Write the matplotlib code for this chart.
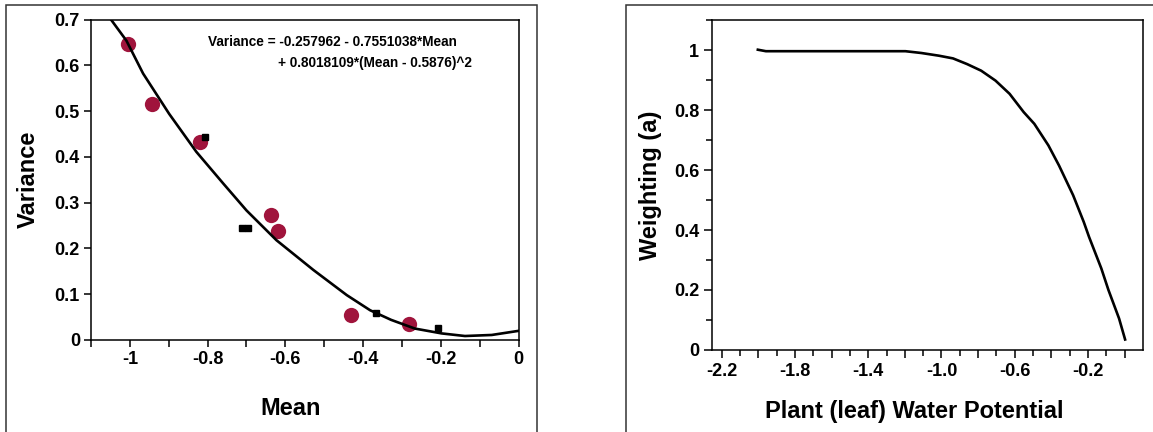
import matplotlib
matplotlib.use("Agg")
import matplotlib.pyplot as plt
from matplotlib.patches import Rectangle
from matplotlib.ticker import MultipleLocator, FixedLocator, FixedFormatter

plt.rcParams['font.family'] = ['Liberation Sans', 'DejaVu Sans']
plt.rcParams['font.weight'] = 'bold'

# left panel: observed mean/variance pairs
circ_mean = [-1.004, -0.942, -0.820, -0.638, -0.620, -0.431, -0.282]
circ_var = [0.647, 0.516, 0.433, 0.274, 0.238, 0.055, 0.034]
sq_mean = [-0.808, -0.711, -0.695, -0.367, -0.207]
sq_var = [0.443, 0.244, 0.244, 0.060, 0.027]

# fitted curve
fit_mean = [-1.047, -1.009, -0.966, -0.899, -0.829, -0.760, -0.700, -0.623,
            -0.528, -0.442, -0.382, -0.328, -0.267, -0.198, -0.138, -0.069, 0.0]
fit_var = [0.698, 0.654, 0.582, 0.494, 0.411, 0.342, 0.283, 0.218,
           0.153, 0.098, 0.065, 0.044, 0.025, 0.0144, 0.0087, 0.011, 0.020]

eq_line1 = "Variance = -0.257962 - 0.7551038*Mean"
eq_line2 = "+ 0.8018109*(Mean - 0.5876)^2"

# right panel: weighting vs water potential
wp = [-2.003, -1.959, -1.708, -1.197, -1.110, -1.014, -0.937, -0.860, -0.783,
      -0.705, -0.628, -0.551, -0.493, -0.416, -0.358, -0.281, -0.223, -0.194,
      -0.127, -0.088, -0.030, 0.003]
weight = [1.001, 0.996, 0.996, 0.996, 0.990, 0.981, 0.972, 0.953, 0.931,
          0.898, 0.854, 0.793, 0.754, 0.682, 0.615, 0.516, 0.427, 0.377,
          0.272, 0.200, 0.105, 0.035]
wp_ticks = [-2.2, -2.0, -1.8, -1.6, -1.4, -1.2, -1.0, -0.8, -0.6, -0.4, -0.2, 0.0]
wp_labels = ['-2.2', '', '-1.8', '', '-1.4', '', '-1.0', '', '-0.6', '', '-0.2', '']

W, H = 1153, 432
fig = plt.figure(figsize=(W / 100, H / 100), dpi=100)

# outer frames around each panel
fig.add_artist(Rectangle((6 / W, -0.1), (537 - 6) / W, 1.1 - 5.5 / H,
                         transform=fig.transFigure, fill=False, lw=1.1, ec='#333333'))
fig.add_artist(Rectangle((626 / W, -0.1), 0.5, 1.1 - 5.5 / H,
                         transform=fig.transFigure, fill=False, lw=1.1, ec='#333333'))

crimson = '#a0143c'
tick_font = 13
label_font = 17

ax1 = fig.add_axes([91 / W, 1 - 340 / H, (518.6 - 91) / W, (340 - 19.5) / H])
ax1.plot(circ_mean, circ_var, 'o', color=crimson, ms=11, mec='none', zorder=2)
ax1.plot(fit_mean, fit_var, '-', color='black', lw=1.9, zorder=3)
ax1.plot(sq_mean, sq_var, 's', color='black', ms=5, zorder=4)
ax1.set_xlim(-1.1, 0)
ax1.set_ylim(0, 0.7)
ax1.xaxis.set_major_locator(FixedLocator([-1, -0.8, -0.6, -0.4, -0.2, 0]))
ax1.xaxis.set_major_formatter(FixedFormatter(['-1', '-0.8', '-0.6', '-0.4', '-0.2', '0']))
ax1.xaxis.set_minor_locator(MultipleLocator(0.1))
ax1.yaxis.set_major_locator(FixedLocator([0, 0.1, 0.2, 0.3, 0.4, 0.5, 0.6, 0.7]))
ax1.yaxis.set_major_formatter(FixedFormatter(['0', '0.1', '0.2', '0.3', '0.4', '0.5', '0.6', '0.7']))
ax1.tick_params(which='major', length=5, width=1.1, labelsize=tick_font, pad=3)
ax1.tick_params(which='minor', length=5, width=1.1)
ax1.set_xlabel('Mean', fontsize=label_font, fontweight='bold')
ax1.set_ylabel('Variance', fontsize=label_font, fontweight='bold')
ax1.xaxis.set_label_coords(0.468, -0.178)
ax1.xaxis.label.set_va('top')
ax1.yaxis.set_label_coords(-0.119, 0.5)
ax1.text((208 - 91) / 427.6, 1 - (42.5 - 19.5) / 320.5, eq_line1, transform=ax1.transAxes,
         fontsize=9.8, fontweight='bold', va='center', ha='left')
ax1.text((278 - 91) / 427.6, 1 - (62.5 - 19.5) / 320.5, eq_line2, transform=ax1.transAxes,
         fontsize=9.8, fontweight='bold', va='center', ha='left')

ax2 = fig.add_axes([711.7 / W, 1 - 350 / H, (1142.5 - 711.7) / W, (350 - 20) / H])
ax2.plot(wp, weight, '-', color='black', lw=1.9)
ax2.set_xlim(-2.255, 0.098)
ax2.set_ylim(0, 1.1)
ax2.xaxis.set_major_locator(FixedLocator(wp_ticks))
ax2.xaxis.set_major_formatter(FixedFormatter(wp_labels))
ax2.xaxis.set_minor_locator(MultipleLocator(0.1))
ax2.yaxis.set_major_locator(FixedLocator([0, 0.2, 0.4, 0.6, 0.8, 1.0]))
ax2.yaxis.set_major_formatter(FixedFormatter(['0', '0.2', '0.4', '0.6', '0.8', '1']))
ax2.yaxis.set_minor_locator(MultipleLocator(0.1))
ax2.tick_params(which='major', length=6, width=1.1, labelsize=tick_font, pad=3)
ax2.tick_params(which='minor', length=4, width=1.1)
ax2.set_xlabel('Plant (leaf) Water Potential', fontsize=label_font, fontweight='bold')
ax2.set_ylabel('Weighting (a)', fontsize=label_font, fontweight='bold')
ax2.xaxis.set_label_coords(0.47, -0.152)
ax2.xaxis.label.set_va('top')
ax2.yaxis.set_label_coords(-0.116, 0.5)

for ax in (ax1, ax2):
    for s in ax.spines.values():
        s.set_linewidth(1.1)

fig.savefig('out.png', dpi=100)
